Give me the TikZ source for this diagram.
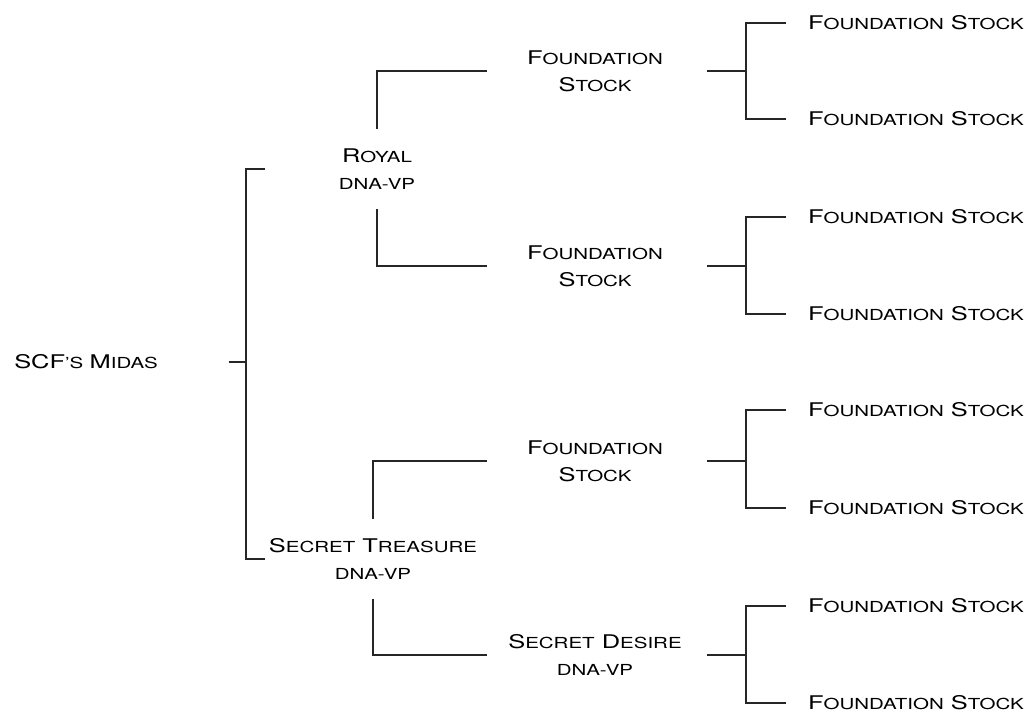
\documentclass[tikz,border=0pt]{standalone}
\usepackage{fontspec}
\setmainfont{TeX Gyre Heros}[FakeStretch=1.35]
\usetikzlibrary{calc}
% small letters of the name, set as smaller capitals
\newcommand\lc[1]{{\fontsize{10.8}{19.2}\selectfont\uppercase{#1}}}
\tikzset{
  link/.style={line width=1.1pt, draw=black!85},
  horse/.style={font=\fontsize{13.4}{19.2}\selectfont, align=center, inner sep=0pt},
  sire/.style={horse, minimum height=2cm},
  leaf/.style={horse, anchor=west, outer xsep=0.55cm}
}

\begin{document}
\begin{tikzpicture}[x=0.025cm, y=-0.025cm]
  \useasboundingbox (0,0) rectangle (1031,713);
  % Horse
  \node[horse, anchor=west, text width=5.35cm, align=left] (midas) at (14,362) {SCF\lc{'s} M\lc{idas}};
  % Sire and dam
  \node[sire] (royal) at (377,169) {R\lc{oyal}\\\lc{dna-vp}};
  \node[sire] (treasure) at (373,559) {S\lc{ecret} T\lc{reasure}\\\lc{dna-vp}};
  % Grandparents
  \node[horse] (gp1) at (595,71) {F\lc{oundation}\\S\lc{tock}};
  \node[horse] (gp2) at (595,266) {F\lc{oundation}\\S\lc{tock}};
  \node[horse] (gp3) at (595,461) {F\lc{oundation}\\S\lc{tock}};
  \node[horse] (gp4) at (595,655) {S\lc{ecret} D\lc{esire}\\\lc{dna-vp}};
  % Great grandparents
  \foreach \i/\y in {1/23, 2/119, 3/217, 4/314, 5/410, 6/508, 7/606, 8/703}
    \node[leaf] (ggp\i) at (786,\y) {F\lc{oundation} S\lc{tock}};

  % Bracket columns
  \coordinate (fork0) at (246,362);
  \coordinate (gpin) at (487,0);
  \coordinate (gpout) at (707,0);
  \coordinate (gpfork) at (746,0);

  % Horse to parents
  \draw[link] (midas) -- (fork0);
  \draw[link] ($(fork0 |- royal)+(19,0)$) -- (fork0 |- royal) -- (fork0 |- treasure) -- ++(19,0);
  % Parents to grandparents
  \draw[link] (royal.north) |- (gpin |- gp1);
  \draw[link] (royal.south) |- (gpin |- gp2);
  \draw[link] (treasure.north) |- (gpin |- gp3);
  \draw[link] (treasure.south) |- (gpin |- gp4);
  % Grandparents to great grandparents
  \foreach \g/\a/\b in {1/1/2, 2/3/4, 3/5/6, 4/7/8} {
    \draw[link] (gpout |- gp\g) -- (gpfork |- gp\g);
    \draw[link] (ggp\a.west) -- (gpfork |- ggp\a) -- (gpfork |- ggp\b) -- (ggp\b.west);
  }
\end{tikzpicture}
\end{document}
